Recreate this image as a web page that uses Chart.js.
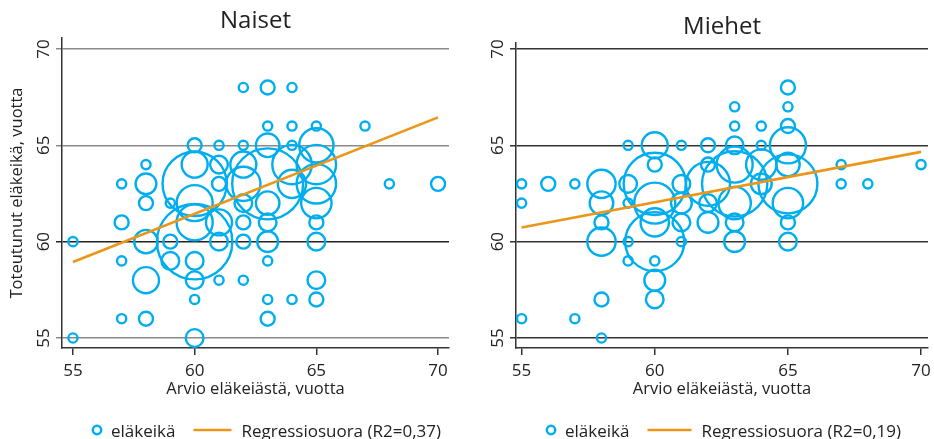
<!DOCTYPE html>
<html>
<head>
<meta charset="utf-8">
<script src="https://cdn.jsdelivr.net/npm/chart.js@4.4.0/dist/chart.umd.min.js"></script>
<style>
  html, body { margin: 0; padding: 0; background: #fff; }
  #wrap { position: relative; width: 934px; height: 439px; }
  #c1 { position: absolute; left: 0; top: 0; }
  #c2 { position: absolute; left: 460px; top: 0; }
</style>
</head>
<body>
<div id="wrap">
  <canvas id="c1" width="460" height="439"></canvas>
  <canvas id="c2" width="474" height="439"></canvas>
</div>
<script>
/* ---- data ---- */
const xTicks = [55, 60, 65, 70];
const yTicks = [55, 60, 65, 70];

// Naiset: estimate (x), actual age (y), number of persons (n)
const naisetX = [55, 55, 57, 57, 57, 57, 58, 58, 58, 58, 58, 58, 59, 59, 59,
  60, 60, 60, 60, 60, 60, 60, 60, 60, 60, 61, 61, 61, 61, 61, 61,
  62, 62, 62, 62, 62, 62, 62, 62, 63, 63, 63, 63, 63, 63, 63, 63, 63, 63,
  64, 64, 64, 64, 64, 64, 65, 65, 65, 65, 65, 65, 65, 65, 65, 67, 68, 70];
const naisetY = [60, 55, 63, 61, 59, 56, 64, 63, 62, 60, 58, 56, 62, 60, 59,
  65, 64, 63, 62, 61, 60, 59, 58, 57, 55, 65, 64, 63, 61, 60, 58,
  68, 65, 64, 63, 62, 61, 60, 58, 68, 66, 65, 63, 62, 61, 60, 59, 57, 56,
  68, 66, 65, 64, 63, 57, 66, 65, 64, 63, 62, 61, 60, 58, 57, 66, 63, 63];
const naisetN = [1, 1, 1, 2, 1, 1, 1, 4, 2, 5, 6, 2, 1, 2, 3,
  2, 6, 33, 11, 11, 45, 3, 3, 1, 3, 1, 3, 2, 6, 3, 1,
  1, 1, 6, 10, 3, 2, 2, 1, 2, 1, 5, 40, 5, 3, 4, 1, 1, 2,
  1, 1, 1, 13, 7, 1, 1, 10, 13, 13, 8, 2, 3, 3, 2, 1, 1, 2];

// Miehet
const miehetX = [55, 55, 55, 56, 57, 57, 58, 58, 58, 58, 58, 58, 59, 59, 59, 59, 59,
  60, 60, 60, 60, 60, 60, 60, 60, 60, 61, 61, 61, 61, 61, 62, 62, 62, 62, 62,
  63, 63, 63, 63, 63, 63, 63, 63, 64, 64, 64, 64,
  65, 65, 65, 65, 65, 65, 65, 65, 65, 67, 67, 68, 70];
const miehetY = [63, 62, 56, 63, 63, 56, 63, 62, 61, 60, 57, 55, 65, 63, 62, 60, 59,
  65, 64, 63, 62, 61, 60, 59, 58, 57, 65, 63, 62, 61, 60, 65, 64, 63, 62, 61,
  67, 66, 65, 64, 63, 62, 61, 60, 66, 65, 64, 63,
  68, 67, 66, 65, 64, 63, 62, 61, 60, 64, 63, 63, 64];
const miehetN = [1, 1, 1, 2, 1, 1, 7, 5, 2, 7, 2, 1, 1, 3, 1, 1, 1,
  6, 2, 31, 14, 7, 28, 1, 4, 3, 1, 3, 4, 3, 1, 2, 2, 16, 3, 4,
  1, 1, 3, 11, 34, 9, 3, 4, 1, 1, 8, 4,
  2, 1, 2, 11, 5, 28, 8, 2, 3, 1, 1, 1, 1];

// regression line end points (x = 55 and x = 70)
const regX = [55, 70];
const naisetFit = [58.94, 66.45];
const miehetFit = [60.73, 64.66];

/* ---- style ---- */
const FONT = '"Open Sans", "Noto Sans", sans-serif';
const BLUE = '#00aeef';
const ORANGE = '#eb9619';
const TEXT = '#222';

function bubbles(xs, ys, ns) {
  return xs.map((x, i) => ({ x: x, y: ys[i], r: 5.8 * Math.sqrt(ns[i]) - 1.2 }));
}

function fitLine(fit) {
  return regX.map((x, i) => ({ x: x, y: fit[i] }));
}

const decor = {
  id: 'decor',
  afterDraw(chart, args, opts) {
    const { ctx, chartArea: a } = chart;
    const y = chart.scales.y;
    ctx.save();
    ctx.fillStyle = TEXT;
    ctx.textAlign = 'center';
    ctx.textBaseline = 'middle';

    ctx.font = '24px ' + FONT;
    ctx.fillText(opts.title, (a.left + a.right) / 2, opts.titleY);

    ctx.font = '17px ' + FONT;
    yTicks.forEach(v => {
      ctx.save();
      ctx.translate(a.left - 19, y.getPixelForValue(v));
      ctx.rotate(-Math.PI / 2);
      ctx.fillText(String(v), 0, 1);
      ctx.restore();
    });

    // legend
    const ly = 430;
    let lx = opts.legendX;
    const ds = chart.data.datasets;
    ctx.font = '17px ' + FONT;
    ctx.textAlign = 'left';
    ctx.textBaseline = 'alphabetic';
    ctx.strokeStyle = BLUE;
    ctx.lineWidth = 2.5;
    ctx.beginPath();
    ctx.arc(lx + 5, ly, 4.2, 0, Math.PI * 2);
    ctx.stroke();
    lx += 19;
    ctx.fillText(ds[1].label, lx, ly + 7);
    lx += ctx.measureText(ds[1].label).width + 18;
    ctx.strokeStyle = ORANGE;
    ctx.lineWidth = 2.5;
    ctx.beginPath();
    ctx.moveTo(lx, ly);
    ctx.lineTo(lx + opts.lineLen, ly);
    ctx.stroke();
    lx += opts.lineLen + 10;
    ctx.fillText(ds[0].label, lx, ly + 7);
    ctx.restore();
  }
};

function makeChart(id, cfg) {
  const el = document.getElementById(id);
  return new Chart(el.getContext('2d'), {
    type: 'bubble',
    data: {
      datasets: [
        {
          type: 'line',
          label: cfg.regLabel,
          data: fitLine(cfg.fit),
          borderColor: ORANGE,
          borderWidth: 2.6,
          pointRadius: 0,
          fill: false,
          order: 0
        },
        {
          label: 'eläkeikä',
          data: bubbles(cfg.xs, cfg.ys, cfg.ns),
          borderColor: BLUE,
          backgroundColor: 'rgba(0,0,0,0)',
          borderWidth: 2.4,
          order: 1
        }
      ]
    },
    options: {
      responsive: false,
      animation: false,
      layout: {
        autoPadding: false,
        padding: { left: 0, right: cfg.padRight, top: cfg.padTop, bottom: 39 }
      },
      plugins: {
        legend: { display: false },
        tooltip: { enabled: false },
        decor: { title: cfg.title, titleY: cfg.titleY, legendX: cfg.legendX, lineLen: cfg.lineLen }
      },
      scales: {
        x: {
          type: 'linear',
          min: cfg.xMin,
          max: cfg.xMax,
          afterBuildTicks: s => { s.ticks = xTicks.map(v => ({ value: v })); },
          afterFit: s => { s.height = 52; s.paddingLeft = 0; s.paddingRight = 0; },
          ticks: { color: TEXT, font: { family: FONT, size: 17 }, padding: 6 },
          grid: { drawOnChartArea: false, drawTicks: true, tickLength: 7, color: '#333', lineWidth: 1.5 },
          border: { display: true, color: '#333', width: 1.5 },
          title: {
            display: true,
            text: 'Arvio eläkeiästä, vuotta',
            color: TEXT,
            font: { family: FONT, size: 16.5 },
            padding: { top: 0, bottom: 1 }
          }
        },
        y: {
          type: 'linear',
          min: 54.48,
          max: cfg.yMax,
          afterBuildTicks: s => { s.ticks = yTicks.map(v => ({ value: v })); },
          afterFit: s => { s.width = cfg.yWidth; s.paddingTop = 0; s.paddingBottom = 0; },
          ticks: { display: false },
          grid: {
            drawTicks: true,
            tickLength: 6,
            lineWidth: 1.5,
            color: ctx => cfg.gridColor(ctx.tick ? ctx.tick.value : 0)
          },
          border: { display: true, color: '#333', width: 1.5 },
          title: {
            display: cfg.yTitle !== '',
            text: cfg.yTitle,
            color: TEXT,
            font: { family: FONT, size: 16.5 },
            padding: { top: 7, bottom: 0 }
          }
        }
      }
    },
    plugins: [decor]
  });
}

makeChart('c1', {
  title: 'Naiset', titleY: 21,
  regLabel: 'Regressiosuora (R2=0,37)',
  xs: naisetX, ys: naisetY, ns: naisetN, fit: naisetFit,
  xMin: 54.55, xMax: 70.45, yMax: 70.57,
  padRight: 11, padTop: 38, yWidth: 62,
  yTitle: 'Toteutunut eläkeikä, vuotta',
  gridColor: v => (v === 60 ? '#222' : '#8a8a8a'),
  legendX: 92, lineLen: 38
});

makeChart('c2', {
  title: 'Miehet', titleY: 27,
  regLabel: 'Regressiosuora (R2=0,19)',
  xs: miehetX, ys: miehetY, ns: miehetN, fit: miehetFit,
  xMin: 54.79, xMax: 70.26, yMax: 70.31,
  padRight: 6, padTop: 43, yWidth: 56,
  yTitle: '',
  gridColor: v => '#333',
  legendX: 86, lineLen: 44
});
</script>
</body>
</html>
